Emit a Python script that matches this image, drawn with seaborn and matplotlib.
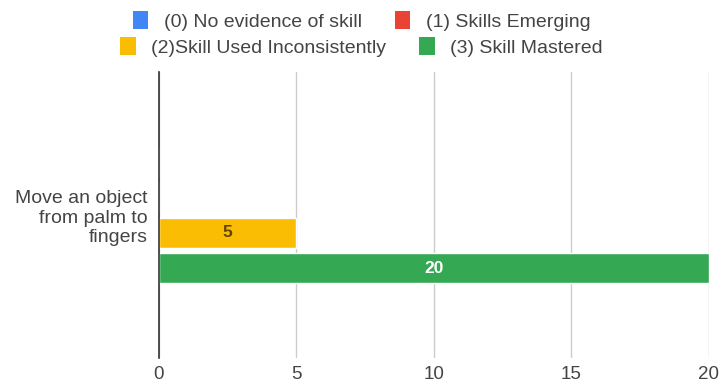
import textwrap

import matplotlib
matplotlib.use("Agg")
import matplotlib.pyplot as plt
from matplotlib.patches import Patch
import pandas as pd
import seaborn as sns

# Chart data
tasks = ["Move an object from palm to fingers"]
levels = [
    "(0) No evidence of skill",
    "(1) Skills Emerging",
    "(2)Skill Used Inconsistently",
    "(3) Skill Mastered",
]
counts = [0, 0, 5, 20]
level_colors = ["#4285F4", "#EA4335", "#FBBC04", "#34A853"]
x_ticks = [0, 5, 10, 15, 20]

df = pd.DataFrame({
    "task": [tasks[0]] * len(levels),
    "level": levels,
    "count": counts,
})

sns.set_theme(style="white")
plt.rcParams["font.family"] = ["Liberation Sans", "DejaVu Sans"]

fig = plt.figure(figsize=(7.23, 3.89), dpi=100)
ax = fig.add_axes([0.2199, 0.0797, 0.7607, 0.7352])

sns.barplot(
    data=df, x="count", y="task", hue="level", hue_order=levels,
    palette=level_colors, orient="h", gap=0.15, saturation=1,
    legend=False, ax=ax,
)

# Value labels inside the bars (zero-length bars stay unlabelled)
label_colors = ["#333333", "#333333", "#5c4600", "white"]
for cont, val, col in zip(ax.containers, counts, label_colors):
    ax.bar_label(cont, labels=[str(val) if val else ""], label_type="center",
                 color=col, fontsize=12.5, fontweight="bold")

ax.set_xlim(0, 20)
ax.set_ylim(0.806, -0.806)
ax.set_xticks(x_ticks)
ax.set_xticklabels([str(t) for t in x_ticks])
ax.set_yticks([0])
ax.set_yticklabels([textwrap.fill(t, 14) for t in tasks],
                   linespacing=1.2, ha="right")
ax.set_xlabel("")
ax.set_ylabel("")

ax.grid(axis="x", color="#cccccc", linewidth=1)
ax.set_axisbelow(True)
for side in ["top", "right", "bottom"]:
    ax.spines[side].set_visible(False)
ax.spines["left"].set_color("#333333")
ax.spines["left"].set_linewidth(1.2)
ax.spines["left"].set_zorder(3)

ax.tick_params(axis="x", length=0, pad=6, labelsize=13.5, labelcolor="#444444")
ax.tick_params(axis="y", length=0, pad=8, labelsize=14, labelcolor="#444444")

# Legend: two centred rows
handles = [Patch(facecolor=c, edgecolor="none") for c in level_colors]
legend_kw = dict(
    ncol=2, frameon=False, fontsize=14, handlelength=0.8, handleheight=1.0,
    handletextpad=0.8, columnspacing=1.7, borderpad=0, borderaxespad=0,
    labelcolor="#444444", loc="center",
)
fig.legend(handles[:2], levels[:2], bbox_to_anchor=(0.5, 0.946), **legend_kw)
fig.legend(handles[2:], levels[2:], bbox_to_anchor=(0.5, 0.879), **legend_kw)

fig.savefig("out.png", dpi=100)
